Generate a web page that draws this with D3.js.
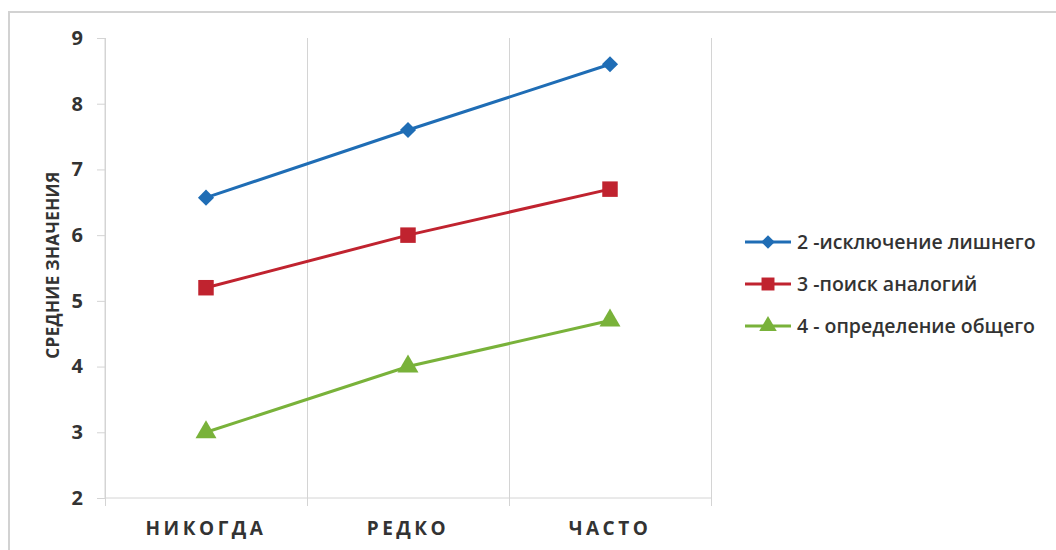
<!DOCTYPE html>
<html>
<head>
<meta charset="utf-8">
<script src="https://cdn.jsdelivr.net/npm/d3@7"></script>
<style>
  html, body { margin: 0; padding: 0; background: #fff; }
  svg { display: block; font-family: "Open Sans", "Noto Sans", sans-serif; }
</style>
</head>
<body>
<svg id="chart" width="1056" height="550"></svg>
<script>
// Frequency categories on the x axis
const categories = ["НИКОГДА", "РЕДКО", "ЧАСТО"];

// Mean scores per subtest
const seriesNames = ["2 -исключение лишнего", "3 -поиск аналогий", "4 - определение общего"];
const exclusionValues = [6.57, 7.6, 8.6];
const analogyValues = [5.2, 6.0, 6.7];
const generalValues = [3.0, 4.0, 4.7];

const yTicks = [2, 3, 4, 5, 6, 7, 8, 9];
const yTitle = "СРЕДНИЕ ЗНАЧЕНИЯ";

const colors = ["#1f6db5", "#c0232f", "#79b23a"];

// marker shapes: rotated square, square, triangle
const diamond = {
  draw(ctx, size) {
    const r = Math.sqrt(size / 2);
    ctx.moveTo(0, -r); ctx.lineTo(r, 0); ctx.lineTo(0, r); ctx.lineTo(-r, 0); ctx.closePath();
  }
};
const symbols = [diamond, d3.symbolSquare, d3.symbolTriangle];
const symbolSizes = [130, 240, 190];

const series = [exclusionValues, analogyValues, generalValues].map((v, i) => ({
  name: seriesNames[i], values: v, color: colors[i], symbol: symbols[i], size: symbolSizes[i]
}));

const svg = d3.select("#chart");

// outer frame
svg.append("path")
  .attr("d", "M9,560 L9,12 L1070,12")
  .attr("fill", "none").attr("stroke", "#d2d2d2").attr("stroke-width", 2);

const plot = { left: 105, right: 711, top: 38, bottom: 498 };

const x = d3.scaleBand().domain(categories).range([plot.left, plot.right]).paddingInner(0).paddingOuter(0);
const y = d3.scaleLinear().domain([2, 9]).range([plot.bottom, plot.top]);

const gridColor = "#d4d4d4";
const textColor = "#333";

// vertical separators between categories
const sepX = categories.map(c => x(c)).concat([plot.right]);
svg.append("g").selectAll("line").data(sepX).join("line")
  .attr("x1", d => d).attr("x2", d => d)
  .attr("y1", plot.top).attr("y2", plot.bottom + 8)
  .attr("stroke", gridColor).attr("stroke-width", 1)
  .attr("shape-rendering", "crispEdges");

// y axis
const yAxis = svg.append("g")
  .attr("transform", `translate(${plot.left},0)`)
  .call(d3.axisLeft(y).tickValues(yTicks).tickSize(8).tickPadding(14).tickFormat(d3.format("d")));
yAxis.select(".domain").attr("stroke", gridColor).attr("d", `M-0,${plot.top}V${plot.bottom}`);
yAxis.selectAll(".tick line").attr("stroke", gridColor);
yAxis.selectAll(".tick text")
  .attr("fill", textColor).attr("font-size", 20).attr("font-weight", 700)
  .attr("font-family", "'Open Sans', sans-serif");

// x axis
const xAxis = svg.append("g")
  .attr("transform", `translate(0,${plot.bottom})`)
  .call(d3.axisBottom(x).tickSize(0).tickPadding(24));
xAxis.select(".domain").attr("stroke", gridColor).attr("d", `M${plot.left},0H${plot.right}`);
xAxis.selectAll(".tick text")
  .attr("fill", textColor).attr("font-size", 19).attr("font-weight", 700)
  .attr("letter-spacing", "3.5px")
  .attr("font-family", "'Open Sans', sans-serif");

// y axis title
svg.append("text")
  .attr("transform", `translate(59,265) rotate(-90)`)
  .attr("text-anchor", "middle")
  .attr("fill", textColor).attr("font-size", 17).attr("font-weight", 700)
  .attr("letter-spacing", "0.4px")
  .text(yTitle);

// series lines and markers
const line = d3.line()
  .x((d, i) => x(categories[i]) + x.bandwidth() / 2)
  .y(d => y(d));

series.forEach(s => {
  svg.append("path")
    .datum(s.values)
    .attr("d", line)
    .attr("fill", "none").attr("stroke", s.color).attr("stroke-width", 3);
  svg.append("g").selectAll("path").data(s.values).join("path")
    .attr("transform", (d, i) => `translate(${x(categories[i]) + x.bandwidth() / 2},${y(d)})`)
    .attr("d", d3.symbol().type(s.symbol).size(s.size))
    .attr("fill", s.color);
});

// legend
const legend = svg.append("g").attr("transform", "translate(745,242)");
series.forEach((s, i) => {
  const g = legend.append("g").attr("transform", `translate(0,${i * 42})`);
  g.append("line").attr("x1", 0).attr("x2", 46).attr("y1", 0).attr("y2", 0)
    .attr("stroke", s.color).attr("stroke-width", 3);
  g.append("path").attr("transform", "translate(23,0)")
    .attr("d", d3.symbol().type(s.symbol).size(s.size * 0.7))
    .attr("fill", s.color);
  g.append("text").attr("x", 52).attr("y", 7)
    .attr("fill", textColor).attr("font-size", 19.5).attr("font-weight", 600)
    .text(s.name);
});
</script>
</body>
</html>
